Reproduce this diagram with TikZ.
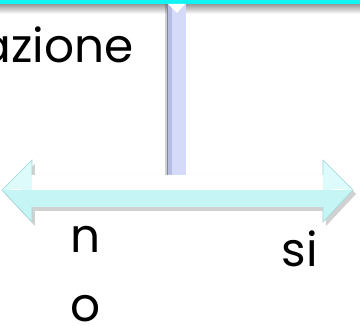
\documentclass[tikz,border=0pt]{standalone}
\usepackage{fontspec}
\setmainfont{Poppins}
\usetikzlibrary{positioning,calc}
\definecolor{topcyan}{HTML}{12F4F4}
\definecolor{pipedark}{HTML}{B7BDE0}
\definecolor{pipelight}{HTML}{D4DAF8}
\definecolor{arrowcyan}{HTML}{C6F5F5}
\definecolor{arrowlight}{HTML}{DDFBFB}
\definecolor{arrowedge}{HTML}{9FD8D8}
\tikzset{
  word/.style={font=\fontsize{47}{69}\selectfont, inner sep=0pt, text=black},
  shadowfill/.style={fill=black, opacity=0.18},
  bevel/.style={draw=arrowedge, line width=0.6pt}
}

\begin{document}
\begin{tikzpicture}[x=1pt, y=-1pt]
\path[use as bounding box, clip] (0,0) rectangle (360,326);

% top band and its shadow
\shade[top color=black!40, bottom color=white] (0,4) rectangle (360,14);
\fill[topcyan] (0,0) rectangle (360,4);

% vertical pipe
\fill[shadowfill] (165,4) rectangle (169,175);
\fill[pipelight] (167,4) rectangle (186,175);
\fill[pipedark] (167,4) rectangle (172,175);
\draw[pipedark!70!black, line width=0.5pt] (167,4) -- (167,175);
\fill[white] (168,4) -- (185,4) -- (177,13) -- cycle;

% double arrow
\fill[shadowfill] (5,194) -- (35,164) -- (35,179) -- (326,179) -- (326,164)
  -- (356,194) -- (326,226) -- (326,211) -- (35,211) -- (35,226) -- cycle;
\fill[arrowcyan] (2,190) -- (32,160) -- (32,175) -- (323,175) -- (323,160)
  -- (353,190) -- (323,222) -- (323,207) -- (32,207) -- (32,222) -- cycle;
\fill[white] (32,175) rectangle (323,190);
\fill[arrowlight] (2,190) -- (32,160) -- (32,190) -- cycle;
\fill[arrowlight] (353,190) -- (323,160) -- (323,190) -- cycle;
\draw[bevel] (2,190) -- (32,160) -- (32,175);
\draw[bevel] (2,190) -- (32,222) -- (32,207);
\draw[bevel] (353,190) -- (323,160) -- (323,175);
\draw[bevel] (353,190) -- (323,222) -- (323,207);
\draw[white, line width=1pt] (10,190) -- (22,190);
\draw[white, line width=1pt] (333,190) -- (345,190);

% labels
\node[word, anchor=base east] (azione) at (134,63) {azione};
\node[word, anchor=base] (n) at (86,253) {n};
\node[word, anchor=base, yshift=-69pt] (o) at (n.base) {o};
\node[word, anchor=base] (si) at (300,267) {si};
\end{tikzpicture}
\end{document}
